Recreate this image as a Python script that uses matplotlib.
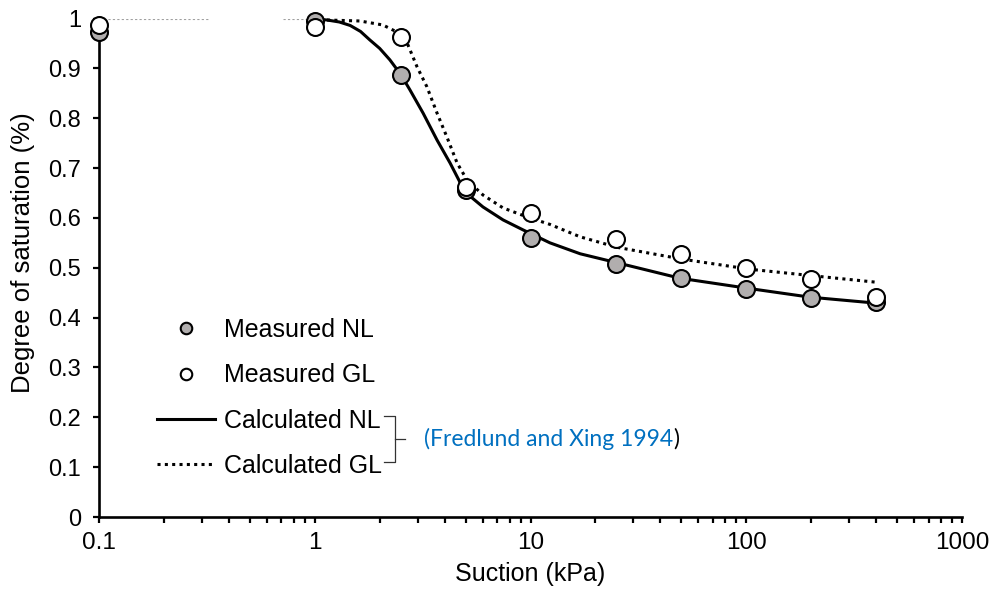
import matplotlib
matplotlib.use("Agg")
import matplotlib.pyplot as plt
from matplotlib.lines import Line2D
from matplotlib import font_manager

# measured points
suction = [0.1, 1, 2.5, 5, 10, 25, 50, 100, 200, 400]
sat_nl = [0.973, 0.995, 0.887, 0.656, 0.559, 0.508, 0.479, 0.457, 0.439, 0.431]
sat_gl = [0.987, 0.983, 0.963, 0.662, 0.610, 0.558, 0.528, 0.499, 0.477, 0.441]

# calculated curves
calc_nl_x = [1.0, 1.14, 1.3, 1.46, 1.63, 1.80, 2.0, 2.23, 2.51, 2.76, 3.18, 3.69, 4.24, 4.97, 6.02,
             7.46, 9.23, 12.3, 17.0, 25.2, 49.3, 100.8, 197.5, 400]
calc_nl_y = [0.999, 0.997, 0.993, 0.986, 0.974, 0.957, 0.940, 0.917, 0.887, 0.857, 0.810, 0.756,
             0.710, 0.652, 0.622, 0.596, 0.576, 0.550, 0.528, 0.510, 0.479, 0.459, 0.441, 0.429]
calc_gl_x = [1.14, 1.62, 2.07, 2.35, 2.68, 2.98, 3.31, 3.69, 4.10, 4.57, 5.08, 6.02, 7.46,
             9.63, 12.3, 17.0, 25.2, 50.9, 104, 213, 400]
calc_gl_y = [0.997, 0.995, 0.987, 0.975, 0.951, 0.903, 0.863, 0.810, 0.762, 0.710, 0.676, 0.646,
             0.620, 0.602, 0.587, 0.562, 0.541, 0.517, 0.497, 0.483, 0.471]
# thin grey line at saturation 1 for low suction
low_x1 = [0.1, 0.327]
low_x2 = [0.713, 1.0]
low_y = [1.0, 1.0]

x_ticks = [0.1, 1, 10, 100, 1000]
x_tick_labels = ["0.1", "1", "10", "100", "1000"]
y_ticks = [0, 0.1, 0.2, 0.3, 0.4, 0.5, 0.6, 0.7, 0.8, 0.9, 1]
y_tick_labels = ["0", "0.1", "0.2", "0.3", "0.4", "0.5", "0.6", "0.7", "0.8", "0.9", "1"]

names = {f.name for f in font_manager.fontManager.ttflist}
narrow = "Liberation Sans Narrow" if "Liberation Sans Narrow" in names else "Liberation Sans"

plt.rcParams['font.family'] = ['Liberation Sans', 'DejaVu Sans']

fig = plt.figure(figsize=(9.95, 5.98), dpi=100)
ax = fig.add_axes([99 / 995, 1 - 517 / 598, 863 / 995, 498.5 / 598])

grey = '#b1aeae'
ax.plot(low_x1, low_y, color='#a0a0a0', lw=0.8, ls=(0, (2, 2)), zorder=1)
ax.plot(low_x2, low_y, color='#a0a0a0', lw=0.8, ls=(0, (2, 2)), zorder=1)
ln_nl, = ax.plot(calc_nl_x, calc_nl_y, color='black', lw=2.2, zorder=2, clip_on=False)
ln_gl, = ax.plot(calc_gl_x, calc_gl_y, color='black', lw=2.2, ls=(0, (1, 1.4)), zorder=2, clip_on=False)
pt_nl, = ax.plot(suction, sat_nl, ls='none', marker='o', ms=12.2, mfc=grey, mec='black', mew=1.5,
                 zorder=3, clip_on=False)
pt_gl, = ax.plot(suction, sat_gl, ls='none', marker='o', ms=12.2, mfc='white', mec='black', mew=1.5,
                 zorder=4, clip_on=False)

ax.set_xscale('log')
ax.set_xlim(0.1, 1000)
ax.set_ylim(0, 1)
ax.set_xticks(x_ticks)
ax.set_xticklabels(x_tick_labels, fontfamily=narrow, fontsize=17.5)
ax.set_yticks(y_ticks)
ax.set_yticklabels(y_tick_labels, fontsize=17)
ax.tick_params(axis='x', which='both', direction='out', length=4, width=1.6, pad=7)
ax.tick_params(axis='y', direction='out', length=4, width=1.6, pad=9)

for s in ['top', 'right']:
    ax.spines[s].set_visible(False)
for s in ['left', 'bottom']:
    ax.spines[s].set_linewidth(1.9)

ax.set_xlabel("Suction (kPa)", fontfamily=narrow, fontsize=18)
ax.xaxis.set_label_coords(0.5, -0.09)
ax.xaxis.label.set_va('top')
ax.set_ylabel("Degree of saturation (%)", fontsize=18.5)
ax.yaxis.set_label_coords(-0.074, 0.53)

leg = ax.legend([pt_nl, pt_gl, ln_nl, ln_gl],
                ["Measured NL", "Measured GL", "Calculated NL", "Calculated GL"],
                loc='upper left', bbox_to_anchor=(157 / 995, 1 - 318 / 598),
                bbox_transform=fig.transFigure, frameon=False, fontsize=18,
                handlelength=2.3, handletextpad=0.38, labelspacing=0.85,
                borderpad=0, borderaxespad=0, markerscale=0.68, numpoints=1)

# brace and reference
bx, by0, by1, bym = 395, 416, 462, 439
def fx(p):
    return p / 995
def fy(p):
    return 1 - p / 598
fig.add_artist(Line2D([fx(384), fx(bx), fx(bx), fx(384)], [fy(by0), fy(by0), fy(by1), fy(by1)],
                      color='#333333', lw=0.9))
fig.add_artist(Line2D([fx(bx), fx(405)], [fy(bym), fy(bym)], color='#333333', lw=0.9))
t = fig.text(fx(424), fy(bym), "(Fredlund and Xing 1994", color='#0070C0', fontsize=16.5,
             fontfamily='Lato', va='center', ha='left')
fig.canvas.draw()
bb = t.get_window_extent()
fig.text(bb.x1 / fig.bbox.width, fy(bym), ")", color='black', fontsize=16.5,
         fontfamily='Lato', va='center', ha='left')

fig.savefig("out.png", dpi=100)
